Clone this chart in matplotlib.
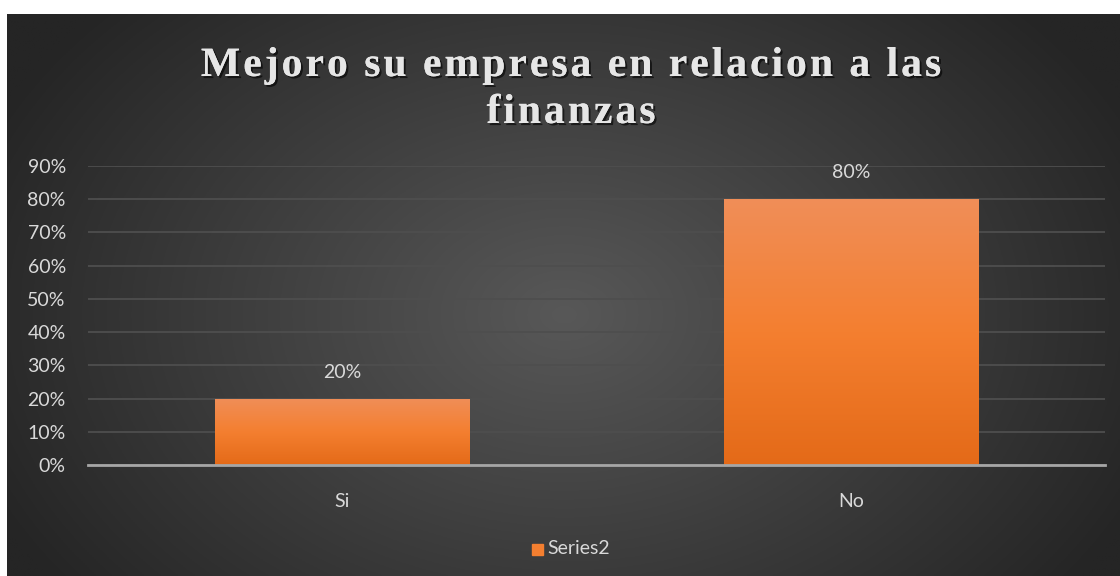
import numpy as np
import matplotlib
matplotlib.use("Agg")
import matplotlib.pyplot as plt
import matplotlib.patheffects as pe
from matplotlib.colors import LinearSegmentedColormap

categories = ["Si", "No"]
values = [0.20, 0.80]
labels = ["20%", "80%"]
yticks = [0, 0.1, 0.2, 0.3, 0.4, 0.5, 0.6, 0.7, 0.8, 0.9]
title_lines = ["Mejoro su empresa en relacion a las", "finanzas"]
series_name = "Series2"

W, H = 1120, 576
fig = plt.figure(figsize=(W / 100, H / 100), dpi=100)
fig.patch.set_facecolor("white")

# background panel with radial gradient
bg = fig.add_axes([7 / W, 0, 1 - 7 / W, 1 - 14 / H])
bg.set_axis_off()
yy, xx = np.mgrid[0:300, 0:600]
cx, cy = 300, 160
r = np.sqrt(((xx - cx) / 340) ** 2 + ((yy - cy) / 240) ** 2)
r = np.clip(r, 0, 1)
c0 = np.array([0x58, 0x58, 0x58]) / 255
c1 = np.array([0x25, 0x25, 0x25]) / 255
img = c0[None, None, :] * (1 - r[..., None]) + c1[None, None, :] * r[..., None]
bg.imshow(img, extent=[0, 1, 0, 1], aspect="auto")
bg.set_xlim(0, 1)
bg.set_ylim(0, 1)

ax = fig.add_axes([88 / W, (H - 465) / H, (1105 - 88) / W, (465 - 166) / H])
ax.patch.set_alpha(0)
x = np.arange(len(categories))
bars = ax.bar(x, values, width=0.5, color="#f47f30", zorder=3)

grad = LinearSegmentedColormap.from_list(
    "og", ["#e46a18", "#f47f30", "#f08e58"])
for b in bars:
    x0, y0 = b.get_x(), b.get_y()
    gi = np.linspace(0, 1, 256).reshape(-1, 1)
    im = ax.imshow(gi, cmap=grad, origin="lower", aspect="auto",
                   extent=[x0, x0 + b.get_width(), y0, y0 + b.get_height()],
                   zorder=4)
    im.set_clip_path(b)

for xi, v, lab in zip(x, values, labels):
    ax.annotate(lab, (xi, v), xytext=(0, 13), textcoords="offset points",
                ha="center", va="bottom", color="#d9d9d9", fontsize=14,
                family="Lato")

ax.set_xlim(-0.5, len(categories) - 0.5)
ax.set_ylim(0, 0.9)
ax.set_yticks(yticks)
ax.set_yticklabels([f"{int(round(t * 100))}%" for t in yticks])
ax.set_xticks(x)
ax.set_xticklabels(categories)
ax.tick_params(length=0, colors="#d9d9d9", labelsize=14)
ax.tick_params(axis="y", pad=16)
ax.tick_params(axis="x", pad=20)
for t in ax.get_xticklabels() + ax.get_yticklabels():
    t.set_family("Lato")
ax.grid(axis="y", color="#4e4e4e", linewidth=1.3, zorder=0)
for s in ["top", "right", "left"]:
    ax.spines[s].set_visible(False)
ax.spines["bottom"].set_color("#a6a6a6")
ax.spines["bottom"].set_linewidth(2)
ax.spines["bottom"].set_zorder(5)

# title with letter spacing, drawn character by character
renderer = fig.canvas.get_renderer()
tkw = dict(fontsize=30, fontweight="bold", family="Liberation Serif",
           color="#e6e6e6", va="baseline", ha="left",
           path_effects=[pe.withSimplePatchShadow(offset=(1.5, -1.5),
                                                  shadow_rgbFace="black",
                                                  alpha=0.6),
                         pe.Normal()])
spacing = 3.0
for line, base_y in zip(title_lines, [76, 123]):
    widths = []
    for ch in line:
        if ch == " ":
            t = fig.text(0, 0, "a a", **tkw)
            w_full = t.get_window_extent(renderer).width
            t.remove()
            t = fig.text(0, 0, "aa", **tkw)
            w = w_full - t.get_window_extent(renderer).width
            t.remove()
        else:
            t = fig.text(0, 0, ch, **tkw)
            w = t.get_window_extent(renderer).width
            t.remove()
        widths.append(w)
    total = sum(widths) + spacing * (len(line) - 1)
    xpos = 571 - total / 2
    for ch, w in zip(line, widths):
        if ch != " ":
            fig.text(xpos / W, 1 - base_y / H, ch, **tkw)
        xpos += w + spacing

# legend
fig.patches.append(plt.Rectangle((532 / W, 1 - 555 / H), 11 / W, 11 / H,
                                 transform=fig.transFigure,
                                 color="#f47f30"))
fig.text(547 / W, 1 - 549 / H, series_name, ha="left", va="center",
         color="#d9d9d9", fontsize=14, family="Lato")

fig.savefig("out.png", dpi=100, facecolor=fig.get_facecolor())
